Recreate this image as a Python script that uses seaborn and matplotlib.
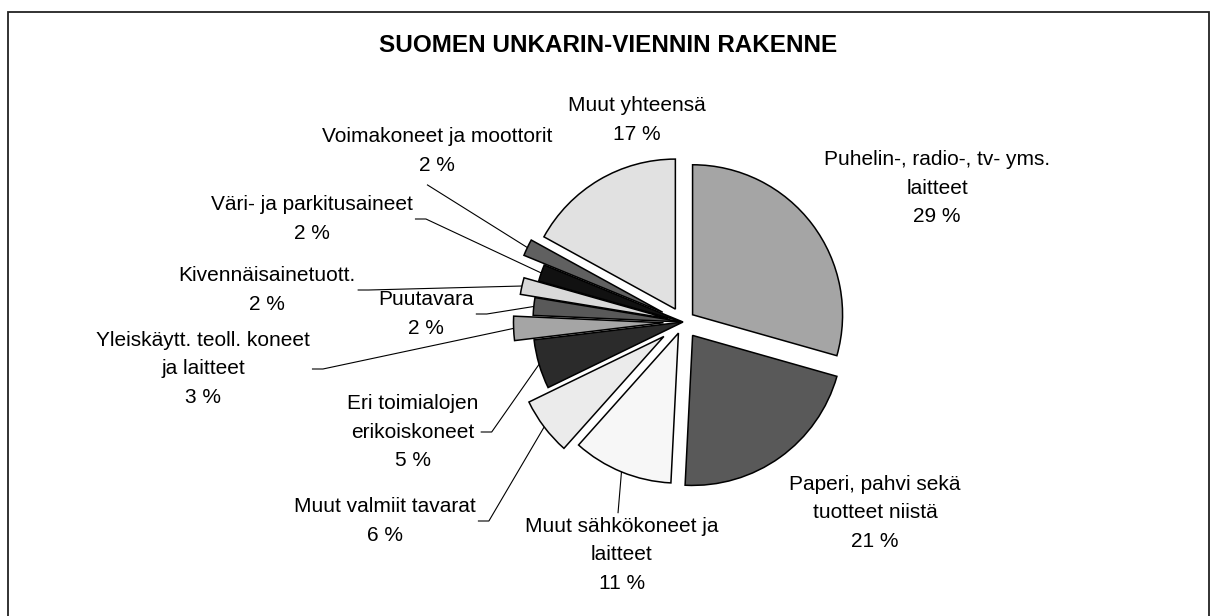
import numpy as np
import matplotlib
matplotlib.use("Agg")
import matplotlib.pyplot as plt
import seaborn as sns
from matplotlib.patches import Rectangle

# ---------------- data ----------------
title = "SUOMEN UNKARIN-VIENNIN RAKENNE"
categories = [
    "Puhelin-, radio-, tv- yms.\nlaitteet",
    "Paperi, pahvi sekä\ntuotteet niistä",
    "Muut sähkökoneet ja\nlaitteet",
    "Muut valmiit tavarat",
    "Eri toimialojen\nerikoiskoneet",
    "Yleiskäytt. teoll. koneet\nja laitteet",
    "Puutavara",
    "Kivennäisainetuott.",
    "Väri- ja parkitusaineet",
    "Voimakoneet ja moottorit",
    "Muut yhteensä",
]
shares = [29.4, 21.4, 10.8, 6.2, 5.3, 2.6, 1.9, 1.8, 1.8, 1.8, 17.0]

# ---------------- styles / layout ----------------
colors = ["#a5a5a5", "#595959", "#f7f7f7", "#ebebeb", "#2b2b2b", "#a5a5a5",
          "#595959", "#d9d9d9", "#111111", "#606060", "#e1e1e1"]
explode = [0.08, 0.11, 0.08, 0.16, 0.0, 0.13, 0.0, 0.10, 0.0, 0.15, 0.10]
# label block centres in pixels (x from left, y from top)
label_px = [(937, 188), (875, 513), (622, 555), (385, 521), (413, 432),
            (203, 369), (426, 314), (267, 290), (312, 219), (437, 151), (637, 120)]
leader_side = [None, None, "top", "right", "right", "right", "right",
               "right", "right", "bottom", None]

W, H = 1216, 616
CX, CY, R = 683, 322, 150  # pie centre / radius in pixels

sns.set_theme(style="white")
plt.rcParams["font.family"] = ["Liberation Sans", "DejaVu Sans"]

fig = plt.figure(figsize=(W / 100, H / 100), dpi=100)
fig.patch.set_facecolor("white")
ax = fig.add_axes([0, 0, 1, 1])


def px2d(x, y):
    return ((x - CX) / R, (CY - y) / R)


wedges, _ = ax.pie(
    shares, colors=colors, explode=explode, startangle=90, counterclock=False,
    radius=1.0, center=(0, 0),
    wedgeprops=dict(edgecolor="black", linewidth=1.1),
)
ax.set_xlim(-CX / R, (W - CX) / R)
ax.set_ylim(-(H - CY) / R, CY / R)
ax.set_aspect("equal")
ax.axis("off")

# frame
x0, y0 = px2d(8, 12)
x1, y1 = px2d(1209, 640)
ax.add_patch(Rectangle((x0, y1), x1 - x0, y0 - y1, fill=False,
                       edgecolor="#222222", linewidth=1.3, clip_on=False))

# title
tx, ty = px2d(608, 46)
ax.text(tx, ty, title, ha="center", va="center", fontsize=17.5,
        fontweight="bold", color="black")

# labels
texts = []
for name, v, (lx, ly) in zip(categories, shares, label_px):
    x, y = px2d(lx, ly)
    t = ax.text(x, y, f"{name}\n{int(round(v))} %", ha="center", va="center",
                multialignment="center", fontsize=15, linespacing=1.62,
                color="black")
    texts.append(t)

fig.canvas.draw()
renderer = fig.canvas.get_renderer()
inv = ax.transData.inverted()
for w, t, side in zip(wedges, texts, leader_side):
    if side is None:
        continue
    mid = np.deg2rad((w.theta1 + w.theta2) / 2)
    cx, cy = w.center
    wp = (cx + w.r * np.cos(mid), cy + w.r * np.sin(mid))
    bb = t.get_window_extent(renderer)
    if side == "right":
        p0 = inv.transform((bb.x1 + 2, (bb.y0 + bb.y1) / 2))
        p1 = inv.transform((bb.x1 + 13, (bb.y0 + bb.y1) / 2))
        pts = [p0, p1, wp]
    elif side == "top":
        p0 = inv.transform(((bb.x0 + bb.x1) / 2 - 4, bb.y1 + 4))
        pts = [p0, wp]
    else:  # bottom
        p0 = inv.transform(((bb.x0 + bb.x1) / 2 - 10, bb.y0 - 10))
        pts = [p0, wp]
    xs = [p[0] for p in pts]
    ys = [p[1] for p in pts]
    ax.plot(xs, ys, color="black", linewidth=0.8, solid_capstyle="butt")

fig.savefig("out.png", dpi=100, facecolor="white")
